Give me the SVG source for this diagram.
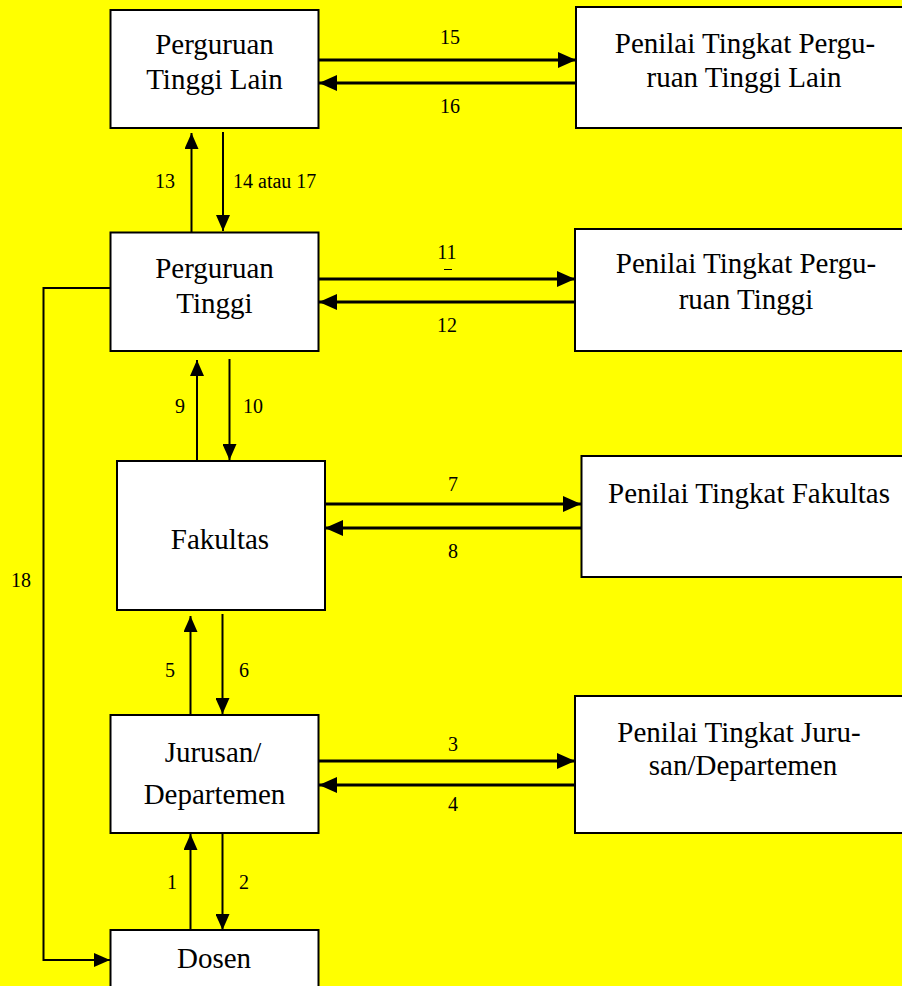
<svg xmlns="http://www.w3.org/2000/svg" width="902" height="986" viewBox="0 0 902 986">
<style>
  .box { fill: #ffffff; stroke: #000000; stroke-width: 2; }
  .t { font-family: "Liberation Serif", "Times New Roman", serif; font-size: 29px; fill: #000000; text-anchor: middle; }
  .lbl { font-family: "Liberation Serif", "Times New Roman", serif; font-size: 20px; fill: #000000; text-anchor: middle; }
  .h { stroke: #000000; stroke-width: 3; fill: none; marker-end: url(#ah); }
  .v { stroke: #000000; stroke-width: 2; fill: none; marker-end: url(#av); }
</style>
<defs>
  <marker id="ah" markerUnits="userSpaceOnUse" markerWidth="18" markerHeight="16" refX="18" refY="8" orient="auto">
    <path d="M0,0 L18,8 L0,16 z" fill="#000000"/>
  </marker>
  <marker id="av" markerUnits="userSpaceOnUse" markerWidth="16" markerHeight="14" refX="16" refY="7" orient="auto">
    <path d="M0,0 L16,7 L0,14 z" fill="#000000"/>
  </marker>
</defs>
<rect x="0" y="0" width="902" height="986" fill="#ffff00"/>

<g id="node-pt-lain">
  <rect class="box" x="110.5" y="10" width="208" height="118"/>
  <text class="t" x="214.5" y="54">Perguruan</text>
  <text class="t" x="214.5" y="89">Tinggi Lain</text>
</g>
<g id="node-penilai-pt-lain">
  <rect class="box" x="576" y="7" width="340" height="121"/>
  <text class="t" x="745" y="53">Penilai Tingkat Pergu-</text>
  <text class="t" x="744" y="87">ruan Tinggi Lain</text>
</g>
<g id="node-pt">
  <rect class="box" x="110.5" y="232.5" width="208" height="118.5"/>
  <text class="t" x="214.5" y="278">Perguruan</text>
  <text class="t" x="214.5" y="313">Tinggi</text>
</g>
<g id="node-penilai-pt">
  <rect class="box" x="575" y="229" width="340" height="122"/>
  <text class="t" x="746" y="273">Penilai Tingkat Pergu-</text>
  <text class="t" x="746" y="309">ruan Tinggi</text>
</g>
<g id="node-fakultas">
  <rect class="box" x="117" y="461" width="208" height="149"/>
  <text class="t" x="220" y="549">Fakultas</text>
</g>
<g id="node-penilai-fakultas">
  <rect class="box" x="581.5" y="456" width="340" height="121"/>
  <text class="t" x="749" y="503">Penilai Tingkat Fakultas</text>
</g>
<g id="node-jurusan">
  <rect class="box" x="110.5" y="715" width="208" height="118"/>
  <text class="t" x="213" y="762">Jurusan/</text>
  <text class="t" x="214.5" y="804">Departemen</text>
</g>
<g id="node-penilai-jurusan">
  <rect class="box" x="575" y="696" width="340" height="137"/>
  <text class="t" x="739" y="742">Penilai Tingkat Juru-</text>
  <text class="t" x="743" y="775">san/Departemen</text>
</g>
<g id="node-dosen">
  <rect class="box" x="110.5" y="930" width="208" height="70"/>
  <text class="t" x="214" y="968">Dosen</text>
</g>

<g id="connectors">
  <line class="h" x1="319" y1="60" x2="576" y2="60"/>
  <line class="h" x1="576" y1="83" x2="319" y2="83"/>
  <line class="v" x1="191.5" y1="232" x2="191.5" y2="133"/>
  <line class="v" x1="223" y1="132" x2="223" y2="231"/>
  <line class="h" x1="319" y1="279" x2="575" y2="279"/>
  <line class="h" x1="575" y1="302" x2="319" y2="302"/>
  <line x1="444" y1="269.5" x2="452" y2="269.5" stroke="#000000" stroke-width="1"/>
  <line class="v" x1="197" y1="460" x2="197" y2="360"/>
  <line class="v" x1="229.5" y1="359" x2="229.5" y2="460"/>
  <line class="h" x1="325" y1="504" x2="581" y2="504"/>
  <line class="h" x1="581" y1="528" x2="325" y2="528"/>
  <line class="v" x1="190.5" y1="714" x2="190.5" y2="616"/>
  <line class="v" x1="222.5" y1="614" x2="222.5" y2="714"/>
  <line class="h" x1="319" y1="761" x2="575" y2="761"/>
  <line class="h" x1="575" y1="785" x2="319" y2="785"/>
  <line class="v" x1="190.5" y1="930" x2="190.5" y2="834"/>
  <line class="v" x1="222.5" y1="833" x2="222.5" y2="930"/>
  <polyline class="v" points="110,288 43.5,288 43.5,960 110,960"/>

  <text class="lbl" x="450" y="44">15</text>
  <text class="lbl" x="450" y="113">16</text>
  <text class="lbl" x="165" y="188">13</text>
  <text class="lbl" x="233" y="188" style="text-anchor:start">14 atau 17</text>
  <text class="lbl" x="447" y="259">11</text>
  <text class="lbl" x="447" y="332">12</text>
  <text class="lbl" x="180" y="413">9</text>
  <text class="lbl" x="253" y="413">10</text>
  <text class="lbl" x="453" y="491">7</text>
  <text class="lbl" x="453" y="558">8</text>
  <text class="lbl" x="21" y="587">18</text>
  <text class="lbl" x="170" y="677">5</text>
  <text class="lbl" x="244" y="677">6</text>
  <text class="lbl" x="453" y="751">3</text>
  <text class="lbl" x="453" y="811">4</text>
  <text class="lbl" x="172" y="889">1</text>
  <text class="lbl" x="244" y="889">2</text>
</g>
</svg>
